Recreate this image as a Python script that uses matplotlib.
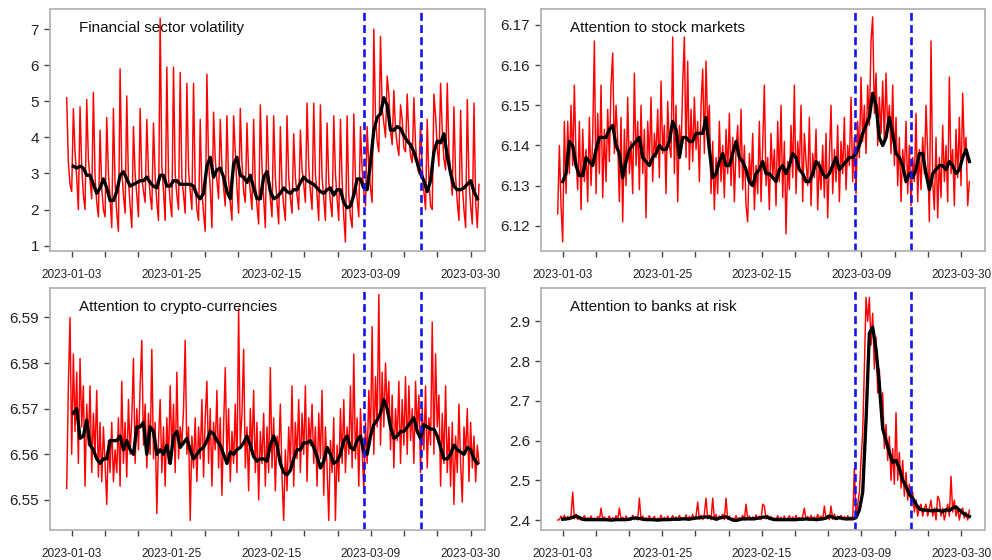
import numpy as np
import matplotlib.pyplot as plt

plt.rcParams['font.family'] = ['Liberation Sans', 'DejaVu Sans']

# x axis is the observation index; labels every third tick
tick_pos = np.linspace(3, 242, 13)
tick_labels = ['2023-01-03', '', '', '2023-01-25', '', '', '2023-02-15', '', '',
               '2023-03-09', '', '', '2023-03-30']
event_lines = [178.4, 212.1]

# Financial sector volatility (4 obs per trading day)
vol_red = [
    5.1, 3.3, 2.7, 2.5, 4.8, 3.6, 2.9, 2.0,
    4.85, 3.2, 2.4, 2.0, 5.05, 3.4, 2.8, 2.3,
    5.25, 2.9, 2.2, 1.8, 4.2, 2.6, 2.0, 1.8,
    4.55, 3.0, 2.3, 1.5, 4.8, 2.7, 1.9, 1.4,
    5.9, 3.1, 2.4, 1.9, 5.15, 2.8, 2.1, 1.5,
    4.3, 3.0, 2.4, 1.8, 4.8, 2.9, 2.5, 2.2,
    4.5, 3.0, 2.4, 2.0, 4.4, 2.9, 2.2, 1.7,
    7.3, 3.2, 2.5, 1.7, 5.95, 2.9, 2.2, 1.8,
    5.95, 3.0, 2.4, 2.0, 5.8, 2.9, 2.4, 1.9,
    5.5, 3.1, 2.5, 2.0, 5.5, 2.7, 2.0, 1.7,
    4.5, 2.5, 1.9, 1.4, 5.75, 3.3, 2.6, 1.5,
    4.7, 3.4, 2.8, 2.3, 4.5, 3.2, 2.6, 2.1,
    4.6, 2.8, 2.2, 1.7, 4.6, 3.6, 2.6, 1.9,
    4.8, 3.3, 2.5, 2.2, 4.4, 3.0, 2.5, 2.0,
    4.5, 2.7, 2.1, 1.6, 4.9, 3.2, 2.3, 1.5,
    4.6, 3.0, 2.3, 1.8, 4.6, 2.9, 2.2, 1.6,
    4.3, 2.7, 2.1, 1.7, 4.6, 2.9, 2.3, 1.9,
    4.1, 2.9, 2.4, 2.0, 4.2, 3.1, 2.7, 2.2,
    4.95, 3.2, 2.5, 2.0, 4.95, 3.0, 2.4, 1.7,
    4.9, 2.9, 2.3, 1.7, 4.4, 2.8, 2.2, 1.8,
    4.6, 3.0, 2.3, 1.7, 4.5, 2.8, 1.8, 1.1,
    4.6, 2.4, 1.8, 1.5, 4.65, 2.9, 2.3, 1.8,
    4.3, 3.1, 2.5, 2.1, 4.3, 3.2, 2.6, 2.2,
    7.0, 4.6, 3.9, 3.6, 6.8, 4.8, 4.4, 4.0,
    5.7, 5.2, 4.2, 3.8, 5.3, 4.2, 3.8, 3.5,
    4.9, 4.5, 3.7, 3.6, 5.2, 4.0, 3.5, 3.3,
    5.1, 3.8, 3.2, 3.0, 4.4, 3.2, 2.5, 2.0,
    4.5, 2.8, 2.1, 2.0, 5.2, 4.6, 3.7, 3.2,
    5.5, 4.2, 3.4, 3.1, 5.5, 3.6, 3.0, 2.4,
    4.85, 2.9, 2.2, 1.7, 4.75, 2.7, 2.0, 1.5,
    5.05, 2.8, 2.1, 1.6, 4.95, 2.2, 1.5, 2.7,
]
vol_black = [
    3.2, 3.15, 3.2, 3.15, 2.95, 2.95, 2.7, 2.45, 2.6, 2.85,
    2.6, 2.25, 2.25, 2.5, 2.95, 3.05, 2.85, 2.65, 2.7, 2.75,
    2.8, 2.8, 2.9, 2.75, 2.65, 2.6, 2.95, 2.95, 2.65, 2.65,
    2.8, 2.8, 2.7, 2.7, 2.7, 2.7, 2.65, 2.4, 2.3, 2.45,
    3.2, 3.45, 2.9, 3.1, 3.15, 2.9, 2.5, 2.3, 3.25, 3.45,
    2.95, 2.9, 2.75, 2.95, 2.6, 2.3, 2.3, 2.9, 3.05, 2.5,
    2.3, 2.35, 2.45, 2.6, 2.5, 2.45, 2.55, 2.55, 2.75, 2.9,
    2.8, 2.75, 2.7, 2.6, 2.5, 2.45, 2.55, 2.6, 2.4, 2.55,
    2.55, 2.2, 2.05, 2.1, 2.4, 2.85, 2.85, 2.6, 2.55, 3.3,
    4.2, 4.55, 4.65, 5.1, 4.9, 4.2, 4.2, 4.3, 4.25, 4.05,
    3.9, 3.8, 3.6, 3.3, 3.0, 2.8, 2.5, 2.8, 3.6, 3.9,
    3.85, 4.1, 3.5, 3.0, 2.65, 2.55, 2.55, 2.6, 2.7, 2.8,
    2.5, 2.3,
]

# Attention to stock markets
stock_red = [
    6.123, 6.140, 6.125, 6.116, 6.146, 6.128, 6.146, 6.133, 6.150, 6.135,
    6.155, 6.137, 6.129, 6.146, 6.124, 6.144, 6.131, 6.139, 6.126, 6.147,
    6.130, 6.142, 6.166, 6.128, 6.148, 6.133, 6.155, 6.127, 6.144, 6.131,
    6.149, 6.136, 6.155, 6.163, 6.138, 6.150, 6.141, 6.126, 6.147, 6.121,
    6.144, 6.130, 6.152, 6.133, 6.141, 6.128, 6.158, 6.135, 6.146, 6.129,
    6.150, 6.133, 6.144, 6.122, 6.146, 6.136, 6.152, 6.131, 6.143, 6.137,
    6.149, 6.132, 6.156, 6.138, 6.145, 6.128, 6.151, 6.140, 6.137, 6.167,
    6.133, 6.150, 6.126, 6.145, 6.138, 6.155, 6.167, 6.137, 6.161, 6.134,
    6.149, 6.136, 6.152, 6.139, 6.146, 6.131, 6.150, 6.159, 6.138, 6.161,
    6.144, 6.150, 6.128, 6.141, 6.124, 6.137, 6.128, 6.146, 6.131, 6.140,
    6.127, 6.144, 6.133, 6.148, 6.130, 6.142, 6.126, 6.139, 6.145, 6.132,
    6.149, 6.129, 6.140, 6.125, 6.121, 6.138, 6.130, 6.143, 6.124, 6.135,
    6.128, 6.146, 6.126, 6.140, 6.155, 6.130, 6.137, 6.124, 6.143, 6.132,
    6.139, 6.125, 6.146, 6.131, 6.150, 6.127, 6.141, 6.118, 6.136, 6.129,
    6.145, 6.132, 6.155, 6.128, 6.141, 6.134, 6.150, 6.126, 6.143, 6.136,
    6.130, 6.147, 6.125, 6.138, 6.132, 6.144, 6.124, 6.136, 6.129, 6.140,
    6.127, 6.143, 6.122, 6.137, 6.150, 6.128, 6.139, 6.131, 6.145, 6.126,
    6.141, 6.133, 6.147, 6.129, 6.140, 6.135, 6.152, 6.131, 6.142, 6.128,
    6.146, 6.137, 6.157, 6.141, 6.150, 6.138, 6.155, 6.145, 6.166, 6.172,
    6.148, 6.158, 6.140, 6.152, 6.143, 6.156, 6.141, 6.158, 6.144, 6.150,
    6.138, 6.155, 6.135, 6.147, 6.130, 6.142, 6.126, 6.139, 6.133, 6.146,
    6.128, 6.140, 6.125, 6.137, 6.131, 6.148, 6.126, 6.139, 6.129, 6.142,
    6.133, 6.150, 6.138, 6.121, 6.166, 6.131, 6.124, 6.142, 6.122, 6.137,
    6.127, 6.145, 6.131, 6.140, 6.126, 6.157, 6.133, 6.139, 6.125, 6.144,
    6.132, 6.147, 6.130, 6.153, 6.138, 6.142, 6.125, 6.131,
]
stock_black = [
    6.131, 6.133, 6.141, 6.140, 6.135, 6.1325, 6.1325, 6.137, 6.136, 6.135,
    6.139, 6.142, 6.142, 6.142, 6.144, 6.145, 6.140, 6.138, 6.132, 6.136,
    6.139, 6.140, 6.141, 6.142, 6.137, 6.136, 6.135, 6.137, 6.138, 6.140,
    6.139, 6.139, 6.141, 6.146, 6.144, 6.137, 6.142, 6.142, 6.141, 6.141,
    6.143, 6.143, 6.143, 6.147, 6.139, 6.132, 6.133, 6.136, 6.138, 6.135,
    6.135, 6.138, 6.141, 6.137, 6.136, 6.134, 6.131, 6.130, 6.133, 6.134,
    6.136, 6.133, 6.133, 6.132, 6.131, 6.134, 6.135, 6.133, 6.135, 6.138,
    6.137, 6.134, 6.133, 6.131, 6.131, 6.133, 6.136, 6.135, 6.133, 6.132,
    6.133, 6.135, 6.137, 6.134, 6.135, 6.136, 6.137, 6.137, 6.138, 6.140,
    6.143, 6.145, 6.147, 6.153, 6.150, 6.142, 6.140, 6.142, 6.147, 6.143,
    6.138, 6.137, 6.135, 6.131, 6.133, 6.132, 6.134, 6.138, 6.138, 6.133,
    6.129, 6.133, 6.134, 6.135, 6.135, 6.134, 6.136, 6.135, 6.133, 6.134,
    6.137, 6.139, 6.136,
]

# Attention to crypto-currencies
crypto_red = [
    6.5525, 6.575, 6.590, 6.560, 6.582, 6.565, 6.578, 6.558, 6.581, 6.566,
    6.575, 6.553, 6.571, 6.562, 6.575, 6.556, 6.569, 6.560, 6.574, 6.555,
    6.567, 6.554, 6.566, 6.558, 6.549, 6.563, 6.556, 6.567, 6.554, 6.561,
    6.556, 6.568, 6.553, 6.576, 6.558, 6.567, 6.555, 6.572, 6.560, 6.568,
    6.581, 6.558, 6.570, 6.561, 6.575, 6.585, 6.562, 6.571, 6.557, 6.569,
    6.560, 6.583, 6.559, 6.567, 6.547, 6.563, 6.572, 6.556, 6.566, 6.553,
    6.568, 6.558, 6.575, 6.560, 6.571, 6.556, 6.578, 6.559, 6.566, 6.562,
    6.570, 6.585, 6.560, 6.566, 6.5455, 6.564, 6.557, 6.568, 6.554, 6.566,
    6.559, 6.572, 6.555, 6.568, 6.576, 6.558, 6.570, 6.553, 6.567, 6.561,
    6.574, 6.557, 6.568, 6.551, 6.566, 6.579, 6.559, 6.570, 6.554, 6.565,
    6.558, 6.571, 6.556, 6.592, 6.562, 6.569, 6.583, 6.557, 6.566, 6.552,
    6.570, 6.560, 6.574, 6.556, 6.567, 6.550, 6.565, 6.558, 6.569, 6.553,
    6.566, 6.556, 6.579, 6.557, 6.568, 6.552, 6.564, 6.560, 6.571, 6.555,
    6.5455, 6.561, 6.552, 6.566, 6.557, 6.575, 6.553, 6.567, 6.559, 6.572,
    6.556, 6.569, 6.560, 6.575, 6.554, 6.568, 6.562, 6.571, 6.558, 6.566,
    6.553, 6.569, 6.559, 6.574, 6.551, 6.566, 6.557, 6.5455, 6.563, 6.556,
    6.568, 6.5455, 6.562, 6.554, 6.570, 6.558, 6.572, 6.556, 6.566, 6.560,
    6.575, 6.557, 6.582, 6.559, 6.568, 6.553, 6.570, 6.561, 6.552, 6.567,
    6.558, 6.574, 6.563, 6.588, 6.560, 6.577, 6.566, 6.595, 6.562, 6.578,
    6.566, 6.580, 6.569, 6.576, 6.561, 6.573, 6.557, 6.570, 6.563, 6.576,
    6.558, 6.572, 6.562, 6.577, 6.560, 6.575, 6.563, 6.570, 6.558, 6.576,
    6.565, 6.573, 6.556, 6.570, 6.561, 6.575, 6.557, 6.568, 6.562, 6.589,
    6.560, 6.582, 6.566, 6.573, 6.553, 6.569, 6.558, 6.575, 6.556, 6.566,
    6.553, 6.567, 6.549, 6.564, 6.556, 6.571, 6.558, 6.5495, 6.566, 6.560,
    6.570, 6.554, 6.567, 6.557, 6.564, 6.554, 6.562, 6.558,
]
crypto_black = [
    6.5690, 6.5700, 6.5635, 6.5640, 6.5675, 6.5620, 6.5610, 6.5590, 6.5580, 6.5590,
    6.5590, 6.5630, 6.5630, 6.5630, 6.5640, 6.5610, 6.5630, 6.5610, 6.5600, 6.5660,
    6.5660, 6.5670, 6.5600, 6.5660, 6.5650, 6.5600, 6.5610, 6.5600, 6.5620, 6.5580,
    6.5640, 6.5650, 6.5615, 6.5625, 6.5635, 6.5610, 6.5590, 6.5600, 6.5610, 6.5615,
    6.5630, 6.5650, 6.5645, 6.5630, 6.5620, 6.5600, 6.5580, 6.5605, 6.5600, 6.5610,
    6.5615, 6.5625, 6.5640, 6.5620, 6.5595, 6.5585, 6.5590, 6.5590, 6.5585, 6.5620,
    6.5640, 6.5620, 6.5580, 6.5560, 6.5555, 6.5565, 6.5590, 6.5610, 6.5610, 6.5625,
    6.5625, 6.5630, 6.5615, 6.5595, 6.5570, 6.5585, 6.5615, 6.5600, 6.5580, 6.5585,
    6.5600, 6.5630, 6.5640, 6.5615, 6.5610, 6.5630, 6.5640, 6.5605, 6.5600, 6.5640,
    6.5665, 6.5675, 6.5690, 6.5720, 6.5700, 6.5660, 6.5635, 6.5640, 6.5650, 6.5650,
    6.5660, 6.5670, 6.5680, 6.5650, 6.5635, 6.5665, 6.5660, 6.5655, 6.5655, 6.5640,
    6.5615, 6.5590, 6.5590, 6.5600, 6.5620, 6.5610, 6.5605, 6.5600, 6.5615, 6.5610,
    6.5590, 6.5580,
]

# Attention to banks at risk
banks_red = [
    2.400, 2.401, 2.410, 2.401, 2.412, 2.400, 2.409, 2.402, 2.412, 2.470,
    2.403, 2.415, 2.401, 2.410, 2.400, 2.403, 2.411, 2.400, 2.406, 2.401,
    2.410, 2.400, 2.405, 2.401, 2.409, 2.400, 2.430, 2.401, 2.408, 2.400,
    2.404, 2.410, 2.400, 2.406, 2.401, 2.411, 2.400, 2.430, 2.401, 2.407,
    2.400, 2.410, 2.401, 2.405, 2.400, 2.412, 2.401, 2.408, 2.400, 2.455,
    2.402, 2.410, 2.400, 2.406, 2.401, 2.411, 2.400, 2.404, 2.409, 2.400,
    2.405, 2.401, 2.412, 2.400, 2.407, 2.401, 2.410, 2.400, 2.404, 2.411,
    2.401, 2.408, 2.400, 2.412, 2.402, 2.406, 2.401, 2.413, 2.400, 2.409,
    2.402, 2.414, 2.401, 2.410, 2.445, 2.402, 2.412, 2.401, 2.415, 2.455,
    2.403, 2.412, 2.401, 2.455, 2.402, 2.414, 2.400, 2.410, 2.403, 2.415,
    2.401, 2.455, 2.402, 2.410, 2.400, 2.405, 2.401, 2.411, 2.400, 2.406,
    2.401, 2.412, 2.400, 2.440, 2.402, 2.410, 2.401, 2.408, 2.400, 2.413,
    2.402, 2.410, 2.401, 2.440, 2.435, 2.403, 2.412, 2.401, 2.409, 2.400,
    2.405, 2.401, 2.411, 2.400, 2.407, 2.401, 2.410, 2.400, 2.404, 2.411,
    2.401, 2.408, 2.400, 2.412, 2.401, 2.406, 2.400, 2.410, 2.430, 2.401,
    2.409, 2.400, 2.412, 2.402, 2.408, 2.401, 2.414, 2.402, 2.410, 2.401,
    2.435, 2.403, 2.412, 2.401, 2.435, 2.402, 2.415, 2.401, 2.410, 2.403,
    2.412, 2.401, 2.409, 2.400, 2.411, 2.402, 2.408, 2.401,
    2.530, 2.410, 2.440, 2.470, 2.550, 2.620, 2.780, 2.960, 2.900, 2.960,
    2.840, 2.920, 2.780, 2.860, 2.720, 2.780, 2.660, 2.720, 2.580, 2.640,
    2.550, 2.610, 2.500, 2.580, 2.490, 2.670, 2.500, 2.570, 2.480, 2.550,
    2.460, 2.520, 2.450, 2.490, 2.440, 2.470, 2.420, 2.450, 2.410, 2.430,
    2.440, 2.410, 2.430, 2.440, 2.410, 2.430, 2.450, 2.410, 2.430, 2.400,
    2.460, 2.450, 2.410, 2.430, 2.400, 2.420, 2.440, 2.410, 2.510, 2.420,
    2.450, 2.410, 2.430, 2.400, 2.425, 2.430, 2.405, 2.420, 2.400, 2.425,
]
banks_black = [
    2.402, 2.403, 2.404, 2.407, 2.410, 2.406, 2.402, 2.401, 2.401, 2.401,
    2.401, 2.401, 2.401, 2.401, 2.400, 2.400, 2.401, 2.401, 2.401, 2.401,
    2.402, 2.405, 2.405, 2.404, 2.402, 2.401, 2.401, 2.401, 2.400, 2.400,
    2.401, 2.401, 2.401, 2.402, 2.402, 2.402, 2.403, 2.403, 2.402, 2.404,
    2.405, 2.406, 2.407, 2.408, 2.407, 2.405, 2.402, 2.405, 2.407, 2.408,
    2.404, 2.400, 2.399, 2.401, 2.403, 2.403, 2.403, 2.403, 2.404, 2.405,
    2.407, 2.408, 2.405, 2.402, 2.401, 2.401, 2.401, 2.401, 2.401, 2.401,
    2.401, 2.402, 2.402, 2.403, 2.402, 2.402, 2.401, 2.402, 2.403, 2.405,
    2.410, 2.407, 2.404, 2.406, 2.404, 2.403, 2.403, 2.403, 2.406, 2.425,
    2.470, 2.650, 2.870, 2.885, 2.830, 2.740, 2.630, 2.600, 2.570, 2.545,
    2.550, 2.530, 2.500, 2.485, 2.465, 2.455, 2.440, 2.428, 2.425, 2.425,
    2.424, 2.423, 2.425, 2.424, 2.421, 2.426, 2.424, 2.430, 2.433, 2.425,
    2.418, 2.413, 2.409,
]

vol_yticks = [1, 2, 3, 4, 5, 6, 7]
stock_yticks = [6.12, 6.13, 6.14, 6.15, 6.16, 6.17]
crypto_yticks = [6.55, 6.56, 6.57, 6.58, 6.59]
banks_yticks = [2.4, 2.5, 2.6, 2.7, 2.8, 2.9]


def draw_panel(ax, red, black, black_span, title, yticks, fmt, ylim, xlim, tx):
    ax.plot(np.arange(len(red)), red, color='#ff0000', lw=1.05)
    bx = np.linspace(black_span[0], black_span[1], len(black))
    ax.plot(bx, black, color='black', lw=2.4)
    for e in event_lines:
        ax.axvline(e, color='#1414f0', lw=1.9, ls=(0, (3, 1.6)))
    ax.set_xlim(*xlim)
    ax.set_ylim(*ylim)
    ax.set_xticks(tick_pos)
    ax.set_xticklabels(tick_labels)
    ax.set_yticks(yticks)
    ax.set_yticklabels([fmt % v for v in yticks])
    for s in ax.spines.values():
        s.set_color('#b4b4b4')
        s.set_linewidth(1.3)
    ax.tick_params(direction='out', length=4, width=1, color='#444444')
    ax.tick_params(axis='x', labelsize=8.5, pad=9, labelcolor='#222222')
    ax.tick_params(axis='y', labelsize=11, pad=4, labelcolor='#222222')
    ax.text(tx, 0.908, title, transform=ax.transAxes, fontsize=11,
            va='baseline', ha='left', color='#111111')


fig = plt.figure(figsize=(9.92, 5.6), dpi=100)
ax1 = fig.add_axes([0.0504, 0.5523, 0.4385, 0.4311])
ax2 = fig.add_axes([0.5454, 0.5523, 0.4479, 0.4311])
ax3 = fig.add_axes([0.0504, 0.0536, 0.4385, 0.4316])
ax4 = fig.add_axes([0.5454, 0.0536, 0.4479, 0.4316])

draw_panel(ax1, vol_red, vol_black, (4, 246), 'Financial sector volatility',
           vol_yticks, '%d', (0.86, 7.55), (-10, 250.6), 0.067)
draw_panel(ax2, stock_red, stock_black, (3, 247), 'Attention to stock markets',
           stock_yticks, '%.2f', (6.1138, 6.1739), (-10, 256.6), 0.065)
draw_panel(ax3, crypto_red, crypto_black, (4, 246), 'Attention to crypto-currencies',
           crypto_yticks, '%.2f', (6.5434, 6.5964), (-10, 250.6), 0.067)
draw_panel(ax4, banks_red, banks_black, (3, 247), 'Attention to banks at risk',
           banks_yticks, '%.1f', (2.375, 2.983), (-10, 256.6), 0.065)

fig.savefig('out.png', dpi=100)
